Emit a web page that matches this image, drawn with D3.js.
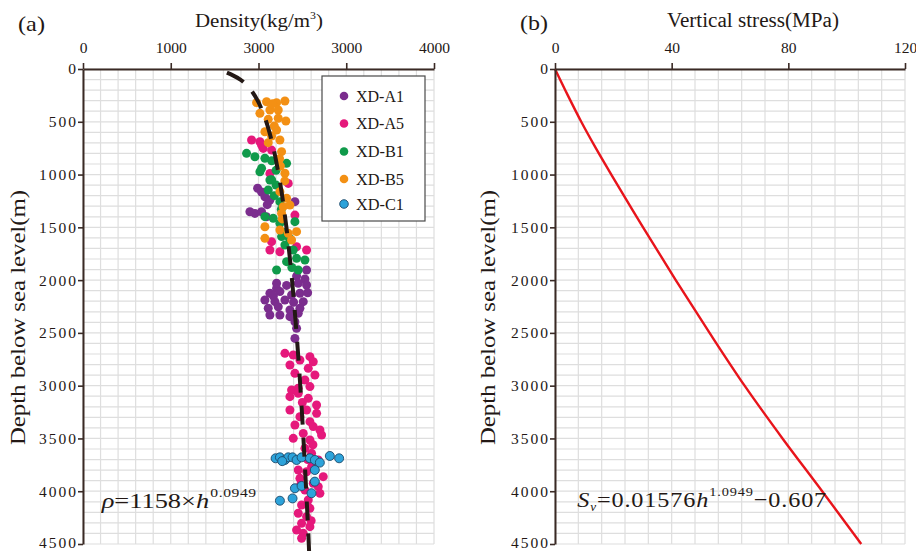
<!DOCTYPE html>
<html><head><meta charset="utf-8">
<script src="https://cdn.jsdelivr.net/npm/d3@7"></script>
<style>
body{margin:0;background:#fff;}
svg text{font-family:"Liberation Serif","Times New Roman",serif;fill:#231815;}
</style></head>
<body><svg id="c" width="916" height="551"></svg>
<script>
// ---------- data ----------
const densityTicks = [0, 1000, 2000, 3000, 4000];
const densityTickLabels = ["0", "1000", "3000", "3000", "4000"];
const depthTicks = [0, 500, 1000, 1500, 2000, 2500, 3000, 3500, 4000, 4500];
const stressTicks = [0, 40, 80, 120];
const stressTickLabels = ["0", "40", "80", "120"];

const seriesNames = ["XD-A1", "XD-A5", "XD-B1", "XD-B5", "XD-C1"];
const seriesColors = ["#7b2d8e", "#e5187b", "#0f9a4a", "#f39014", "#2da3da"];

// [density kg/m3, depth m]
const xdA1 = [[1990,1130],[2035,1165],[2073,1210],[2130,1241],[2100,1285],[1902,1352],[1959,1368],[2035,1352],[2415,1257],[2090,1400],
  [2548,1904],[2529,1990],[2434,1962],[2320,2050],[2206,2078],[2206,2030],[2453,2030],[2548,2046],[2130,2125],[2244,2109],
  [2377,2141],[2472,2125],[2073,2188],[2187,2204],[2301,2188],[2510,2204],[2111,2267],[2225,2252],[2358,2283],[2472,2267],
  [2130,2330],[2244,2330],[2358,2346],[2453,2315],[2415,2394],[2434,2457],[2415,2552],[2560,2120],[2170,2150],[2400,2210]];
const xdA5 = [[1921,673],[2016,689],[2035,720],[2054,752],[2149,768],[2130,989],[2339,1084],[2415,1384],[2149,1636],[2130,1715],
  [2244,1731],[2434,1684],[2548,1715],
  [2301,2694],[2396,2710],[2472,2757],[2586,2725],[2624,2773],[2358,2804],[2567,2836],[2643,2899],[2415,2883],[2529,2946],
  [2377,3041],[2453,3025],[2586,3009],[2358,3104],[2453,3073],[2567,3120],[2662,3183],[2358,3230],[2548,3230],[2662,3262],
  [2472,3294],[2586,3341],[2415,3373],[2624,3388],[2700,3420],[2510,3452],[2396,3499],[2586,3515],[2719,3467],[2529,3594],
  [2605,3641],[2681,3704],[2453,3799],[2548,3815],[2605,3767],[2738,3862],[2472,3878],[2624,3925],[2681,3957],[2529,3988],
  [2700,4020],[2567,4083],[2491,4131],[2586,4162],[2453,4209],[2548,4241],[2491,4304],[2586,4336],[2434,4367],[2510,4399],
  [2491,4446],[2500,3160],[2620,3560],[2560,3700],[2480,3940],[2600,4280]];
const xdB1 = [[1864,799],[1959,831],[2073,846],[2320,894],[2035,941],[2150,870],[2200,960],[2016,973],[2130,1052],[2111,1146],
  [2200,1100],[2244,1257],[2180,1200],[2073,1399],[2168,1415],[2415,1446],[2244,1462],[2263,1588],[2300,1550],[2350,1600],
  [2301,1667],[2396,1715],[2434,1794],[2529,1810],[2206,1904],[2453,1904],[2320,1825],[2150,1050],[2260,1330],[2380,1880]];
const xdB5 = [[1978,319],[2092,310],[2206,319],[2301,303],[2130,388],[2225,388],[2016,420],[2111,477],[2225,467],[2312,493],
  [2073,594],[2206,578],[2149,635],[2244,673],[2111,698],[2263,783],[2240,850],[2250,920],[2301,988],[2300,1060],
  [2244,1162],[2320,1225],[2282,1304],[2358,1289],[2263,1368],[2244,1525],[2339,1557],[2073,1494],[2073,1604],[2434,1541],
  [2377,1620],[2180,540],[2160,330],[2270,1420]];
const xdC1 = [[2195,3688],[2244,3679],[2301,3704],[2339,3679],[2388,3679],[2434,3704],[2491,3679],[2585,3688],[2642,3704],[2699,3729],
  [2813,3666],[2919,3688],[2642,3799],[2642,3909],[2415,3972],[2491,3950],[2604,4019],[2244,4090],[2388,4068],[2270,3715]];
const seriesData = [xdA1, xdA5, xdB1, xdB5, xdC1];

// fitted density curve
const fitDepth   = [35, 60, 100, 150, 200, 300, 400, 500, 700, 1000, 1500, 2000, 2500, 3000, 3500, 4000, 4500, 4620];
const fitDensity = [1640, 1708, 1793, 1863, 1914, 1990, 2045, 2089, 2156, 2230, 2318, 2382, 2433, 2476, 2512, 2544, 2573, 2579];

// vertical stress curve
const stressDepth  = [0, 250, 500, 750, 1000, 1500, 2000, 2500, 3000, 3500, 4000, 4500];
const stressValues = [0, 4.4, 9.0, 14.0, 19.3, 30.2, 41.4, 53.0, 65.0, 78.0, 91.6, 105];

// ---------- drawing ----------
const svg = d3.select("#c");
const ink = "#3a2a25";
const gridColor = "#dedede";
const serif = '"Liberation Serif","Times New Roman",serif';

const yL = d3.scaleLinear().domain([0, 4500]).range([69, 544]);
const xL = d3.scaleLinear().domain([0, 4000]).range([83, 434]);
const xR = d3.scaleLinear().domain([0, 120]).range([555, 905]);

function grid(xs, xStep, xMax) {
  const g = svg.append("g");
  const vx = d3.range(0, xMax + 1e-9, xStep);
  g.selectAll("line.v").data(vx).join("line")
    .attr("x1", d => xs(d)).attr("x2", d => xs(d))
    .attr("y1", yL(0)).attr("y2", yL(4500))
    .attr("stroke", gridColor).attr("stroke-width", 1.2);
  const hy = d3.range(0, 4501, 100);
  g.selectAll("line.h").data(hy).join("line")
    .attr("x1", xs(0)).attr("x2", xs(xMax))
    .attr("y1", d => yL(d)).attr("y2", d => yL(d))
    .attr("stroke", gridColor).attr("stroke-width", 1.2);
}
grid(xL, 200, 4000);
grid(xR, 8, 120);

function styleAxis(g) {
  g.attr("font-family", serif);
  g.select(".domain").attr("stroke", ink).attr("stroke-width", 2);
  g.selectAll(".tick line").attr("stroke", ink).attr("stroke-width", 1.6);
}

function axes(xs, ticks, labels, yTitleX) {
  const top = svg.append("g").attr("transform", `translate(0,${yL(0)})`)
    .call(d3.axisTop(xs).tickValues(ticks).tickFormat((d, i) => labels[i]).tickSize(6).tickSizeOuter(0).tickPadding(10));
  styleAxis(top);
  top.selectAll("text").attr("font-size", 15.5).attr("fill", "#231815");
  const left = svg.append("g").attr("transform", `translate(${xs(0)},0)`)
    .call(d3.axisLeft(yL).tickValues(depthTicks).tickFormat(d3.format("d")).tickSize(5).tickSizeOuter(0).tickPadding(0));
  styleAxis(left);
  left.selectAll("text").attr("font-size", 15.5).attr("letter-spacing", "2px").attr("fill", "#231815")
    .attr("dy", d => d === 4500 ? "0.2em" : "0.32em");
  svg.append("text").attr("transform", `translate(${yTitleX},${(190 + 445) / 2}) rotate(-90)`)
    .attr("text-anchor", "middle").attr("dy", "0.35em").attr("font-size", 20)
    .attr("textLength", 255).attr("lengthAdjust", "spacingAndGlyphs")
    .text("Depth below sea level(m)");
}

// scatter
seriesData.forEach((arr, si) => {
  svg.append("g").selectAll("circle").data(arr).join("circle")
    .attr("cx", d => xL(d[0])).attr("cy", d => yL(d[1])).attr("r", 4.5)
    .attr("fill", seriesColors[si])
    .attr("stroke", si === 4 ? "#1d4a6b" : "none").attr("stroke-width", 0.9);
});

// density fit curve
const fitPts = fitDepth.map((d, i) => [fitDensity[i], d]);
svg.append("path").datum(fitPts)
  .attr("d", d3.line().x(d => xL(d[0])).y(d => yL(d[1])).curve(d3.curveMonotoneY))
  .attr("fill", "none").attr("stroke", "#231815").attr("stroke-width", 4)
  .attr("stroke-dasharray", "19 13");

// stress curve
const stressPts = stressDepth.map((d, i) => [stressValues[i], d]);
svg.append("path").datum(stressPts)
  .attr("d", d3.line().x(d => xR(d[0])).y(d => yL(d[1])).curve(d3.curveCatmullRom))
  .attr("fill", "none").attr("stroke", "#e8141b").attr("stroke-width", 2.4);

axes(xL, densityTicks, densityTickLabels, 18);
axes(xR, stressTicks, stressTickLabels, 488);

// legend
const lg = svg.append("g");
lg.append("rect").attr("x", 322).attr("y", 76).attr("width", 103).attr("height", 145)
  .attr("fill", "#fff").attr("stroke", "#4a4a4a").attr("stroke-width", 1.2);
const legY = [96, 123.5, 151.5, 179, 204];
seriesNames.forEach((n, i) => {
  lg.append("circle").attr("cx", 344).attr("cy", legY[i]).attr("r", 4.3)
    .attr("fill", seriesColors[i]).attr("stroke", i === 4 ? "#1d4a6b" : "none").attr("stroke-width", 0.9);
  lg.append("text").attr("x", 356).attr("y", legY[i]).attr("dy", "0.35em").attr("font-size", 16)
    .attr("textLength", 48).attr("lengthAdjust", "spacingAndGlyphs").text(n);
});

// titles
svg.append("text").attr("x", 18).attr("y", 31).attr("font-size", 21).attr("textLength", 27)
  .attr("lengthAdjust", "spacingAndGlyphs").text("(a)");
svg.append("text").attr("x", 520).attr("y", 29.5).attr("font-size", 21).attr("textLength", 28)
  .attr("lengthAdjust", "spacingAndGlyphs").text("(b)");
const t1 = svg.append("text").attr("x", 195).attr("y", 27).attr("font-size", 19.5)
  .attr("textLength", 128).attr("lengthAdjust", "spacingAndGlyphs");
t1.append("tspan").text("Density(kg/m");
t1.append("tspan").attr("font-size", 11).attr("dy", -8).text("3");
t1.append("tspan").attr("dy", 8).text(")");
svg.append("text").attr("x", 667).attr("y", 26.5).attr("font-size", 20)
  .attr("textLength", 172).attr("lengthAdjust", "spacingAndGlyphs").text("Vertical stress(MPa)");

// equations
const e1 = svg.append("text")
  .attr("transform", `translate(${xL(213)},${yL(4162)}) scale(1.2,1)`).attr("font-size", 22);
e1.append("tspan").attr("font-style", "italic").text("ρ");
e1.append("tspan").text("=1158×");
e1.append("tspan").attr("font-style", "italic").text("h");
e1.append("tspan").attr("font-size", 13).attr("dy", -11).attr("dx", 1).attr("letter-spacing", "0.5px").text("0.0949");

const e2 = svg.append("text")
  .attr("transform", `translate(${xR(7.6)},${yL(4152)}) scale(1.1,1)`).attr("font-size", 22).attr("letter-spacing", "0.8px");
e2.append("tspan").attr("font-style", "italic").text("S");
e2.append("tspan").attr("font-style", "italic").attr("font-size", 12).attr("dy", 4).text("v");
e2.append("tspan").attr("dy", -4).text("=0.01576");
e2.append("tspan").attr("font-style", "italic").text("h");
e2.append("tspan").attr("font-size", 13).attr("dy", -11).text("1.0949");
e2.append("tspan").attr("dy", 11).text("−0.607");
</script>
</body></html>
